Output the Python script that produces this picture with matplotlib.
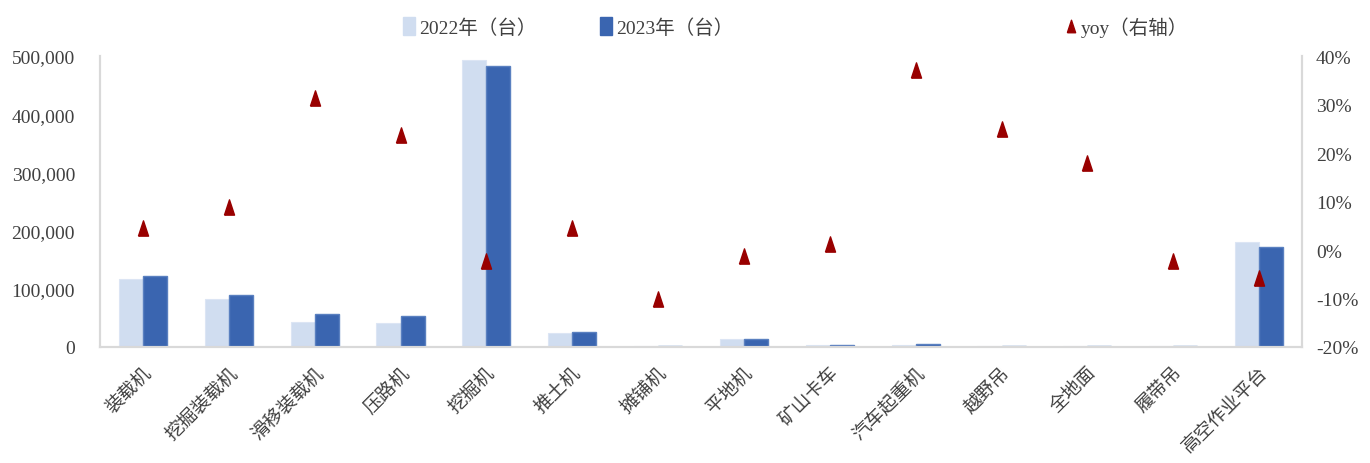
import numpy as np
import matplotlib
matplotlib.use('Agg')
import matplotlib.pyplot as plt
from matplotlib.patches import Patch
from matplotlib.lines import Line2D
from matplotlib.ticker import FuncFormatter

plt.rcParams['font.family'] = ['Liberation Serif', 'Noto Sans CJK SC', 'DejaVu Sans']

categories = ['装载机', '挖掘装载机', '滑移装载机', '压路机', '挖掘机', '推土机', '摊铺机',
              '平地机', '矿山卡车', '汽车起重机', '越野吊', '全地面', '履带吊', '高空作业平台']
sales_2022 = [117400, 81900, 43000, 41800, 492500, 24600, 1500,
              13000, 3400, 3800, 2000, 1200, 1800, 181000]
sales_2023 = [122000, 89300, 56700, 52700, 482800, 26300, 1350,
              12900, 3450, 5200, 2500, 1400, 1760, 171200]
yoy = [4.5, 8.9, 31.4, 23.8, -2.2, 4.5, -10.2, -1.3, 1.2, 37.2, 25.0, 18.0, -2.2, -5.7]

c22 = '#D0DDF0'
c23 = '#3A65B0'
cyoy = '#990000'
grey = '#D9D9D9'
txt = '#404040'

# narrow triangle like the Excel marker
tri = [(-0.33, -0.5), (0.33, -0.5), (0, 0.5), (-0.33, -0.5)]

fig = plt.figure(figsize=(13.7, 4.64), dpi=100)
ax = fig.add_axes([0.073, 0.25, 0.8774, 0.627])
ax2 = ax.twinx()

x = np.arange(len(categories))
w = 0.28
ax.bar(x - w / 2, sales_2022, w, color=c22, edgecolor='#DCE5F4', lw=0.8, zorder=2)
ax.bar(x + w / 2, sales_2023, w, color=c23, edgecolor='#5A80C0', lw=1.0, zorder=2)
ax2.plot(x, yoy, ls='', marker=tri, color=cyoy, ms=11, zorder=3)

ax.set_xlim(-0.5, len(categories) - 0.5)
ax.set_ylim(0, 500000)
ax.set_yticks(np.arange(0, 500001, 100000))
ax.yaxis.set_major_formatter(FuncFormatter(lambda v, p: f'{int(v):,}'))
ax2.set_ylim(-20, 40)
ax2.set_yticks(np.arange(-20, 41, 10))
ax2.yaxis.set_major_formatter(FuncFormatter(lambda v, p: f'{int(v)}%'))

ax.set_xticks(x)
ax.set_xticklabels(categories, rotation=45, ha='right', rotation_mode='anchor',
                   fontsize=13, color=txt)

for a in (ax, ax2):
    a.spines['top'].set_visible(False)
    for s in ('left', 'right', 'bottom'):
        a.spines[s].set_color(grey)
        a.spines[s].set_linewidth(1.5)
    a.tick_params(length=0, labelsize=14, colors=txt)
ax.tick_params(axis='y', pad=18)
ax2.tick_params(axis='y', pad=10)
ax.tick_params(axis='x', pad=12, labelsize=13.5)

ypos = 1 - 28 / 464
kw = dict(loc='center left', frameon=False, fontsize=14, handlelength=0.65,
          handleheight=1.0, handletextpad=0.2, borderpad=0, labelcolor=txt)
fig.legend([Patch(color=c22)], ['2022年（台）'], bbox_to_anchor=(393 / 1370, ypos), **kw)
fig.legend([Patch(color=c23)], ['2023年（台）'], bbox_to_anchor=(590 / 1370, ypos), **kw)
fig.legend([Line2D([], [], marker=tri, ls='', color=cyoy, ms=9)], ['yoy（右轴）'],
           bbox_to_anchor=(1055 / 1370, ypos), **kw)

plt.savefig('out.png', dpi=100)
